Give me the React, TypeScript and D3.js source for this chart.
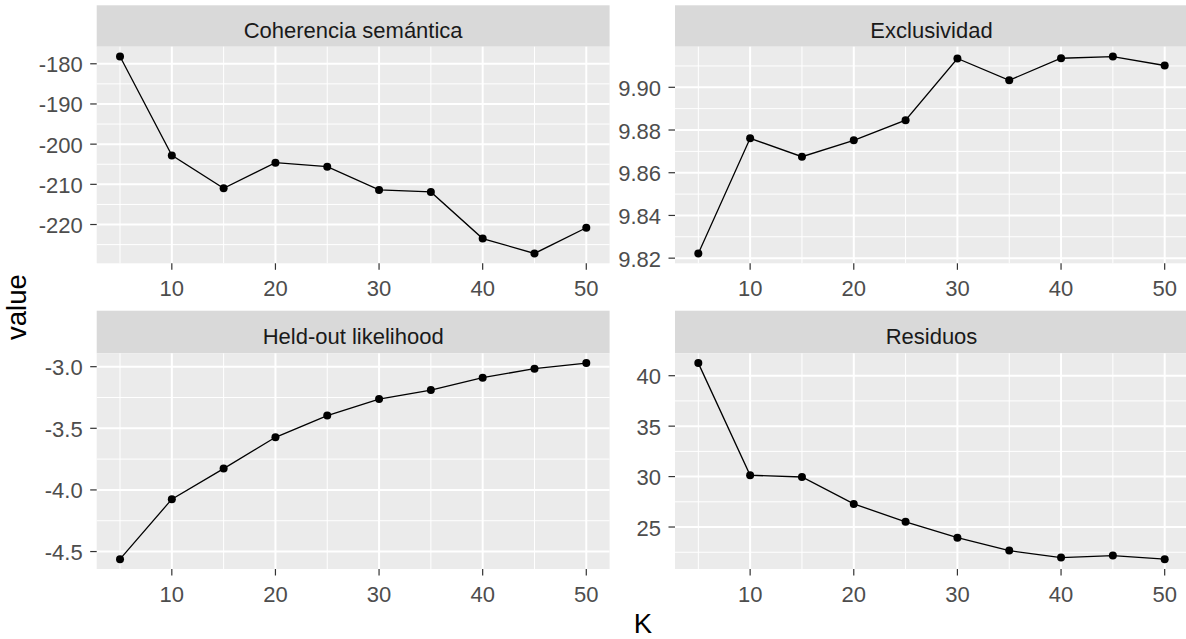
import * as d3 from 'd3';

// K values shared by all four facets
const kValues = [5, 10, 15, 20, 25, 30, 35, 40, 45, 50];

// series
const coherencia = [-178.2, -202.8, -211.0, -204.6, -205.6, -211.4, -211.9, -223.5, -227.2, -220.8];
const exclusividad = [9.8222, 9.8761, 9.8675, 9.8752, 9.8846, 9.9135, 9.9033, 9.9136, 9.9144, 9.9102];
const heldout = [-4.562, -4.075, -3.827, -3.573, -3.397, -3.263, -3.19, -3.089, -3.016, -2.971];
const residuos = [41.25, 30.13, 29.96, 27.29, 25.52, 23.94, 22.66, 21.97, 22.17, 21.81];

// tick labels
const xTicks = [10, 20, 30, 40, 50];
const coherenciaTicks = [-220, -210, -200, -190, -180];
const exclusividadTicks = [9.82, 9.84, 9.86, 9.88, 9.9];
const heldoutTicks = [-4.5, -4.0, -3.5, -3.0];
const residuosTicks = [25, 30, 35, 40];

const W = 1186;
const H = 639;
const FONT = '"Liberation Sans", Arial, Helvetica, sans-serif';
const TICK_SIZE = 22;
const TITLE_SIZE = 27.5;

// ggplot style 5% expansion of a continuous range
const expand = (ext: [number, number]): [number, number] => {
  const pad = (ext[1] - ext[0]) * 0.05;
  return [ext[0] - pad, ext[1] + pad];
};

// minor breaks: midpoints between majors, plus one step either side
const minorBreaks = (major: number[], dom: [number, number]) => {
  const step = major[1] - major[0];
  const out: number[] = [];
  for (let i = -1; i < major.length; i++) out.push(major[0] + step * (i + 0.5));
  return out.filter(v => v > dom[0] && v < dom[1]);
};

type PanelProps = {
  title: string;
  values: number[];
  ticks: number[];
  digits: number;
  left: number;
  right: number;
  stripTop: number;
  top: number;
  bottom: number;
};

const Panel = ({ title, values, ticks, digits, left, right, stripTop, top, bottom }: PanelProps) => {
  const xDom = expand(d3.extent(kValues) as [number, number]);
  const yDom = expand(d3.extent(values) as [number, number]);
  const x = d3.scaleLinear().domain(xDom).range([left, right]);
  const y = d3.scaleLinear().domain(yDom).range([bottom, top]);

  const xMinor = minorBreaks(xTicks, xDom);
  const yMinor = minorBreaks(ticks, yDom);

  const line = d3.line<number>()
    .x((d, i) => x(kValues[i]))
    .y(d => y(d));

  return (
    <g>
      <rect x={left} y={stripTop} width={right - left} height={top - stripTop} fill="#D9D9D9" />
      <text
        x={(left + right) / 2}
        y={stripTop + 33}
        textAnchor="middle"
        fontSize={TICK_SIZE}
        fill="#1A1A1A"
      >
        {title}
      </text>

      <rect x={left} y={top} width={right - left} height={bottom - top} fill="#EBEBEB" />

      {xMinor.map(v => (
        <line key={'xm' + v} x1={x(v)} x2={x(v)} y1={top} y2={bottom} stroke="#fff" strokeWidth={1} />
      ))}
      {yMinor.map(v => (
        <line key={'ym' + v} x1={left} x2={right} y1={y(v)} y2={y(v)} stroke="#fff" strokeWidth={1} />
      ))}
      {xTicks.map(v => (
        <line key={'xM' + v} x1={x(v)} x2={x(v)} y1={top} y2={bottom} stroke="#fff" strokeWidth={2} />
      ))}
      {ticks.map(v => (
        <line key={'yM' + v} x1={left} x2={right} y1={y(v)} y2={y(v)} stroke="#fff" strokeWidth={2} />
      ))}

      <path d={line(values) || ''} fill="none" stroke="#000" strokeWidth={1.3} />
      {values.map((v, i) => (
        <circle key={i} cx={x(kValues[i])} cy={y(v)} r={4} fill="#000" />
      ))}

      {/* x axis */}
      {xTicks.map(v => (
        <g key={'xt' + v}>
          <line x1={x(v)} x2={x(v)} y1={bottom} y2={bottom + 6.5} stroke="#333" strokeWidth={1.2} />
          <text x={x(v)} y={bottom + 33} textAnchor="middle" fontSize={TICK_SIZE} fill="#4D4D4D">
            {v}
          </text>
        </g>
      ))}

      {/* y axis */}
      {ticks.map(v => (
        <g key={'yt' + v}>
          <line x1={left - 6.5} x2={left} y1={y(v)} y2={y(v)} stroke="#333" strokeWidth={1.2} />
          <text x={left - 14} y={y(v) + 8.5} textAnchor="end" fontSize={TICK_SIZE} fill="#4D4D4D">
            {v.toFixed(digits)}
          </text>
        </g>
      ))}
    </g>
  );
};

export default function App() {
  const colL = { left: 96.7, right: 609.6 };
  const colR = { left: 675, right: 1188 };
  const rowT = { stripTop: 5.3, top: 46.7, bottom: 263.3 };
  const rowB = { stripTop: 310.7, top: 353.3, bottom: 569 };

  return (
    <svg
      width={W}
      height={H}
      style={{ position: 'absolute', left: 0, top: 0, background: '#fff' }}
      fontFamily={FONT}
    >
      <Panel title="Coherencia semántica" values={coherencia} ticks={coherenciaTicks} digits={0} {...colL} {...rowT} />
      <Panel title="Exclusividad" values={exclusividad} ticks={exclusividadTicks} digits={2} {...colR} {...rowT} />
      <Panel title="Held-out likelihood" values={heldout} ticks={heldoutTicks} digits={1} {...colL} {...rowB} />
      <Panel title="Residuos" values={residuos} ticks={residuosTicks} digits={0} {...colR} {...rowB} />

      <text x={643} y={632.7} textAnchor="middle" fontSize={TITLE_SIZE} fill="#000">K</text>
      <text
        transform={`translate(26,${(rowT.stripTop + rowB.bottom) / 2 + 20}) rotate(-90)`}
        textAnchor="middle"
        fontSize={TITLE_SIZE}
        fill="#000"
      >
        value
      </text>
    </svg>
  );
}
